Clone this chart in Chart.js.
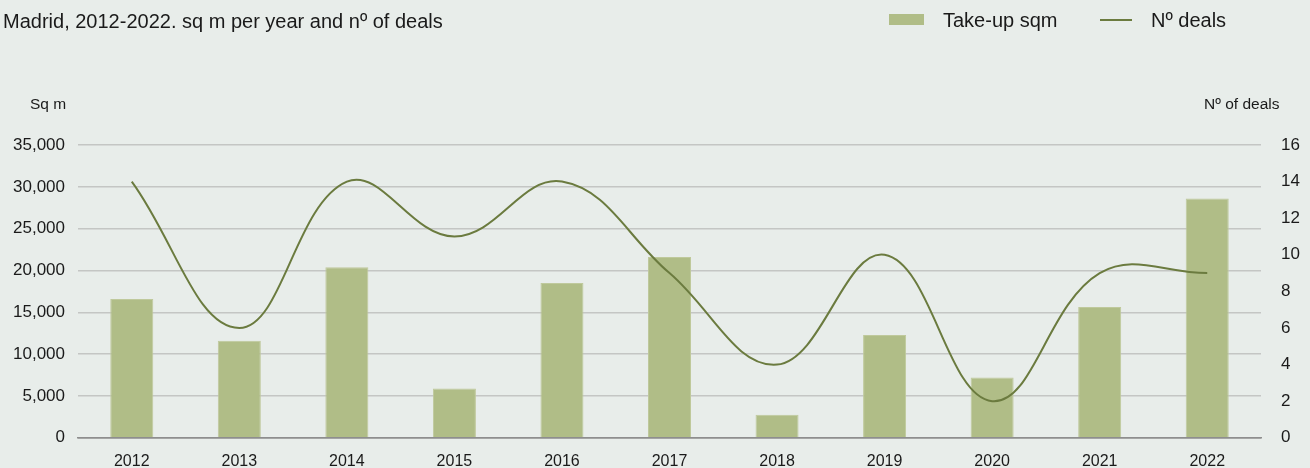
<!DOCTYPE html>
<html>
<head>
<meta charset="utf-8">
<script src="https://cdn.jsdelivr.net/npm/chart.js@4"></script>
<style>
  html, body { margin: 0; padding: 0; background: #e8edea; }
  body { width: 1310px; height: 468px; position: relative; overflow: hidden;
         font-family: "Liberation Sans", Arial, sans-serif; color: #1a1a1a; }
  #wrap { position: absolute; left: 0; top: 0; width: 1310px; height: 468px; }
  .txt { position: absolute; white-space: nowrap; line-height: 1; }
  .subtitle { left: 3px; top: 11px; font-size: 20px; }
  .leg { top: 10px; font-size: 20px; }
  .swatch-bar { position: absolute; left: 889px; top: 14px; width: 35px; height: 11px; background: #b0bd87; }
  .swatch-line { position: absolute; left: 1100px; top: 19px; width: 32px; height: 2px; background: #6b7b3f; }
  .axis-title { top: 96px; font-size: 15.5px; }
</style>
</head>
<body>
<div id="wrap"><canvas id="myChart" width="1310" height="468"></canvas></div>
<div class="txt subtitle">Madrid, 2012-2022. sq m per year and nº of deals</div>
<div class="swatch-bar"></div>
<div class="txt leg" style="left:943px">Take-up sqm</div>
<div class="swatch-line"></div>
<div class="txt leg" style="left:1151px">Nº deals</div>
<div class="txt axis-title" style="left:30px">Sq m</div>
<div class="txt axis-title" style="left:1204px">Nº of deals</div>

<script>
// take-up per year (sq m) and number of deals
const years = ['2012', '2013', '2014', '2015', '2016', '2017', '2018', '2019', '2020', '2021', '2022'];
const takeUp = [16600, 11600, 20400, 5900, 18500, 21600, 2750, 12300, 7200, 15650, 28600];
const deals = [14, 6, 14, 11, 14, 9, 4, 10, 2, 9, 9];

const barColor = '#b0bd87';
const lineColor = '#6b7b3f';
const tickFont = { family: 'Liberation Sans', size: 17 };

const data = {
  labels: years,
  datasets: [
    {
      type: 'line',
      label: 'Nº deals',
      data: deals,
      yAxisID: 'y1',
      borderColor: lineColor,
      borderWidth: 2,
      pointRadius: 0,
      tension: 0.4,
      order: 0
    },
    {
      type: 'bar',
      label: 'Take-up sqm',
      data: takeUp,
      yAxisID: 'y',
      backgroundColor: barColor,
      borderColor: '#bfc99c',
      borderWidth: 1,
      barPercentage: 0.5,
      categoryPercentage: 0.8,
      order: 1
    }
  ]
};

const config = {
  data: data,
  options: {
    responsive: false,
    animation: false,
    layout: { padding: { top: 145, bottom: 0, left: 0, right: 0 } },
    plugins: { legend: { display: false }, tooltip: { enabled: false } },
    scales: {
      x: {
        grid: { display: false },
        border: { display: true, color: '#8e8e8e', width: 1.5 },
        ticks: { color: '#1a1a1a', font: { family: 'Liberation Sans', size: 16 }, padding: 6, maxRotation: 0 },
        afterFit: (s) => { s.height = 30; }
      },
      y: {
        position: 'left',
        min: 0,
        max: 35000,
        ticks: {
          stepSize: 5000,
          color: '#1a1a1a',
          font: tickFont,
          padding: 13,
          callback: (v) => v.toLocaleString('en-US')
        },
        grid: {
          drawTicks: false,
          color: (ctx) => ctx.tick.value === 0 ? '#8e8e8e' : '#c4c6c4',
          lineWidth: 1.5
        },
        border: { display: false },
        afterFit: (s) => { s.width = 78; }
      },
      y1: {
        position: 'right',
        min: 0,
        max: 16,
        ticks: { stepSize: 2, color: '#1a1a1a', font: tickFont, padding: 20 },
        grid: { display: false, drawTicks: false },
        border: { display: false },
        afterFit: (s) => { s.width = 49; }
      }
    }
  }
};

const myChart = new Chart(document.getElementById('myChart'), config);
</script>
</body>
</html>
